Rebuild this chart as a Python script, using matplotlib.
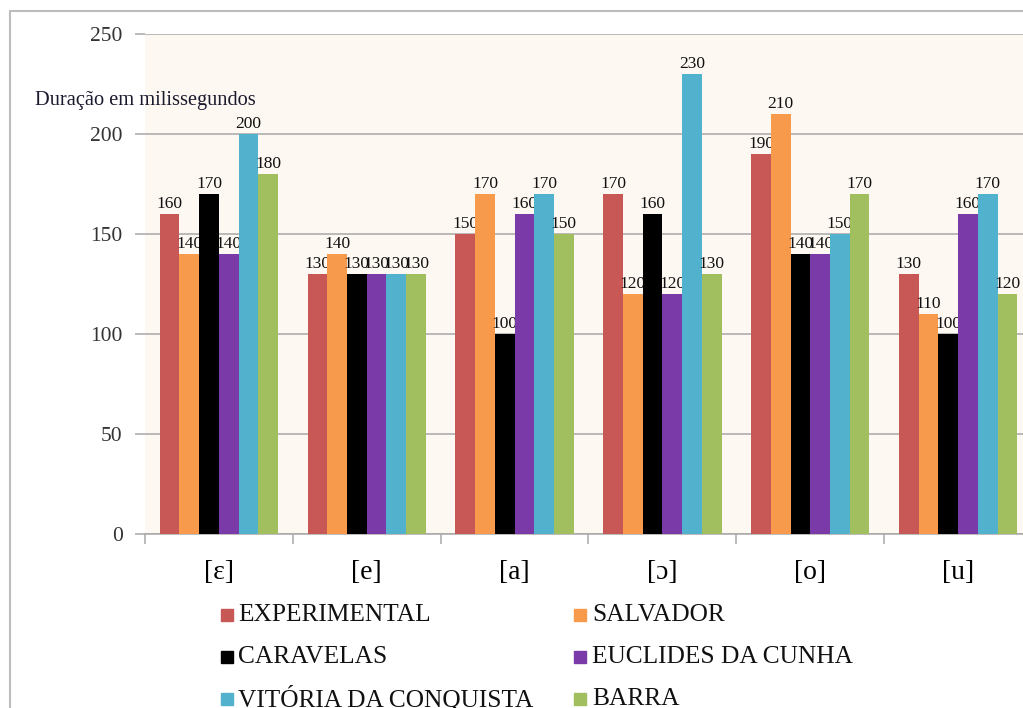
import numpy as np
import matplotlib
matplotlib.use('Agg')
import matplotlib.pyplot as plt
from matplotlib.patches import Rectangle

plt.rcParams['font.family'] = ['Liberation Serif', 'DejaVu Serif']

# vowels and the durations (ms)
vowels = ['[ɛ]', '[e]', '[a]', '[ɔ]', '[o]', '[u]']
series = ['EXPERIMENTAL', 'SALVADOR', 'CARAVELAS', 'EUCLIDES DA CUNHA',
          'VITÓRIA DA CONQUISTA', 'BARRA']
experimental = [160, 130, 150, 170, 190, 130]
salvador = [140, 140, 170, 120, 210, 110]
caravelas = [170, 130, 100, 160, 140, 100]
euclides = [140, 130, 160, 120, 140, 160]
vitoria = [200, 130, 170, 230, 150, 170]
barra = [180, 130, 150, 130, 170, 120]
values = [experimental, salvador, caravelas, euclides, vitoria, barra]
colors = ['#C85856', '#F79A4B', '#000000', '#7A3AA7', '#52B1CC', '#A2BF60']

W, H = 1023, 708
fig = plt.figure(figsize=(W/100, H/100), dpi=100)
fig.patch.set_facecolor('white')

# plot area (right side runs past the image edge like the reference)
ax = fig.add_axes([145/W, (H-534)/H, (1032-145)/W, 500/H])
ax.set_facecolor('#FDF8F2')

x = np.arange(len(vowels))
n = len(series)
bw = 0.8/n
for i, (name, vals) in enumerate(zip(series, values)):
    bars = ax.bar(x - 0.4 + bw*(i+0.5), vals, bw, color=colors[i], zorder=3)
    ax.bar_label(bars, padding=1.5, fontsize=12.5, color='#111111')

ax.set_xlim(-0.5, len(vowels)-0.5)
ax.set_ylim(0, 250)
ax.set_yticks(np.arange(0, 251, 50))
ax.grid(axis='y', color='#A8A8A8', lw=1.1, zorder=0)
ax.tick_params(axis='y', length=7, width=1.1, color='#A8A8A8', pad=9,
               labelsize=15.5, labelcolor='#333333')
ax.set_xticks(x)
ax.set_xticklabels(vowels, fontsize=20)
ax.tick_params(axis='x', which='major', length=0, pad=19)
ax.set_xticks(np.arange(-0.5, len(vowels), 1), minor=True)
ax.tick_params(axis='x', which='minor', length=7, width=1.1, color='#A8A8A8')
for s in ['top', 'right', 'left']:
    ax.spines[s].set_visible(False)
ax.spines['bottom'].set_color('#A8A8A8')
ax.spines['bottom'].set_linewidth(1.1)

fig.text(35/W, 1-100/H, 'Duração em milissegundos', fontsize=14.7,
         color='#1a1a2e', va='center', ha='left')

# legend, 2 columns x 3 rows
col_marker = [227, 580]
col_text = [238, 592]
row_y = [615, 657, 699]
for i, name in enumerate(series):
    c, r = i % 2, i // 2
    yy = 1 - row_y[r]/H
    fig.add_artist(Rectangle(((col_marker[c]-6)/W, yy - 6/H), 12/W, 12/H,
                             transform=fig.transFigure, color=colors[i]))
    fig.text(col_text[c]/W, yy, name, fontsize=18.3, va='center', ha='left',
             color='#111111')

# outer chart border
fig.add_artist(Rectangle((10/W, -0.1), 1.2, (H-11)/H + 0.1,
                         transform=fig.transFigure, fill=False,
                         ec='#BDBDBD', lw=1.5))

fig.savefig('out.png', dpi=100)
